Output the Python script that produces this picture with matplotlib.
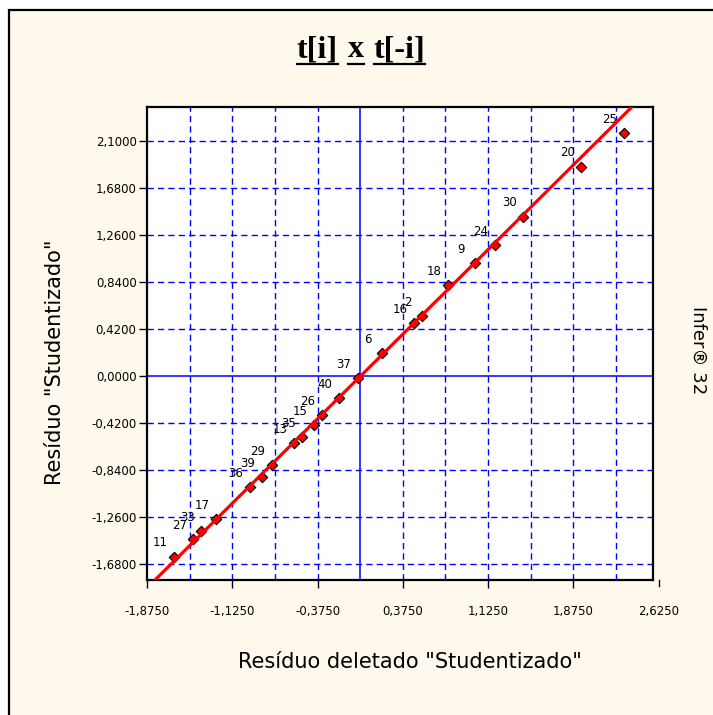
import matplotlib
matplotlib.use('Agg')
import matplotlib.pyplot as plt
import numpy as np
from matplotlib.patches import Rectangle
from matplotlib.lines import Line2D

# observation numbers and residuals (deleted studentized on x, studentized on y)
obs = [11, 27, 33, 17, 36, 39, 29, 13, 35, 15, 26, 40, 37, 6, 16, 2, 18, 9, 24, 30, 20, 25]
t_del = [-1.641, -1.470, -1.400, -1.268, -0.972, -0.868, -0.779, -0.580, -0.510, -0.410,
         -0.337, -0.188, -0.020, 0.188, 0.472, 0.542, 0.773, 1.008, 1.184, 1.432, 1.945, 2.317]
t_stu = [-1.614, -1.457, -1.385, -1.278, -0.995, -0.903, -0.798, -0.600, -0.545, -0.440,
         -0.350, -0.197, -0.020, 0.203, 0.474, 0.536, 0.813, 1.007, 1.171, 1.424, 1.870, 2.169]

# fitted line t[i] = a + b * t[-i]
fit_a, fit_b = -0.004, 1.008

x_ticks = [-1.875, -1.125, -0.375, 0.375, 1.125, 1.875, 2.625]
y_ticks = [-1.68, -1.26, -0.84, -0.42, 0.0, 0.42, 0.84, 1.26, 1.68, 2.10]

W, H = 713, 715
bg = '#fff8ec'
grid_blue = '#0000ff'
sans = 'DejaVu Sans'

fig = plt.figure(figsize=(W / 100, H / 100), dpi=100, facecolor='white')
fig.add_artist(Rectangle((9 / W, -0.05), 1.1, 1.05 - 10 / H, transform=fig.transFigure,
                         facecolor=bg, edgecolor='black', lw=1.6, zorder=-5))

ax = fig.add_axes([147 / W, 1 - 580 / H, 506 / W, 473 / H])
ax.set_facecolor('white')
xmin, xmax = -1.875, 2.575
ymin, ymax = -1.823, 2.404
ax.set_xlim(xmin, xmax)
ax.set_ylim(ymin, ymax)

dash = (0, (4.5, 3))
for gx in np.arange(-1.875 + 0.375, xmax, 0.375):
    if abs(gx) < 1e-9:
        continue
    ax.axvline(gx, color=grid_blue, lw=1.0, ls=dash, zorder=1)
for gy in y_ticks:
    if abs(gy) < 1e-9:
        continue
    ax.axhline(gy, color=grid_blue, lw=1.0, ls=dash, zorder=1)
ax.axvline(0, color=grid_blue, lw=1.1, zorder=1)
ax.axhline(0, color=grid_blue, lw=1.1, zorder=1)

ax.scatter(t_del, t_stu, marker='D', s=28, facecolor='#ff0000', edgecolor='black',
           linewidth=0.8, zorder=3)
for n, x, y in zip(obs, t_del, t_stu):
    ax.annotate(str(n), (x, y), xytext=(-10, 10), textcoords='offset points',
                ha='center', va='center', fontsize=8.5, family=sans, zorder=4)

ax.axline((0, fit_a), slope=fit_b, color='#ff0000', lw=2.3, zorder=5)

def fmt(v):
    return ('%.4f' % v).replace('.', ',')

ax.set_xticks([t for t in x_ticks if t <= xmax])
ax.set_xticklabels([fmt(t) for t in x_ticks if t <= xmax])
ax.set_yticks(y_ticks)
ax.set_yticklabels([fmt(t) for t in y_ticks])
ax.tick_params(axis='x', length=6, width=1, pad=12, labelsize=8.5, direction='out')
ax.tick_params(axis='y', length=6, width=1, pad=1.5, labelsize=8.5, direction='out')
for lab in ax.get_xticklabels() + ax.get_yticklabels():
    lab.set_family(sans)
# last x tick sits just past the right edge of the frame
tr = ax.get_xaxis_transform()
ax.add_line(Line2D([2.625, 2.625], [0, -6 / 473], transform=tr, color='black', lw=1, clip_on=False))
ax.text(2.625, -31 / 473, fmt(2.625), transform=tr, ha='center', va='center',
        fontsize=8.5, family=sans, clip_on=False)

for sp in ax.spines.values():
    sp.set_linewidth(1.6)
    sp.set_color('black')

# underlined title, one underline per word
fig.canvas.draw()
r = fig.canvas.get_renderer()
words = ['t[i]', 'x', 't[-i]']
ty = 1 - 57 / H
texts = [fig.text(0, ty, w, fontsize=23, fontweight='bold', family='Liberation Serif',
                  ha='left', va='baseline') for w in words]
widths = [t.get_window_extent(r).width for t in texts]
gap = 10
x0 = 361 - (sum(widths) + gap * (len(words) - 1)) / 2
for t, w in zip(texts, widths):
    t.set_x(x0 / W)
    fig.add_artist(Line2D([x0 / W, (x0 + w) / W], [1 - 64 / H] * 2, transform=fig.transFigure,
                          color='black', lw=1.6))
    x0 += w + gap

fig.text(410 / W, 1 - 662 / H, 'Resíduo deletado "Studentizado"', ha='center', va='center',
         fontsize=15, family=sans)
fig.text(55 / W, 1 - 362 / H, 'Resíduo "Studentizado"', ha='center', va='center',
         rotation=90, fontsize=15, family=sans)
fig.text(698 / W, 1 - 350 / H, 'Infer® 32', ha='center', va='center',
         rotation=-90, fontsize=13, family=sans)

fig.savefig('out.png', dpi=100, facecolor=fig.get_facecolor())
